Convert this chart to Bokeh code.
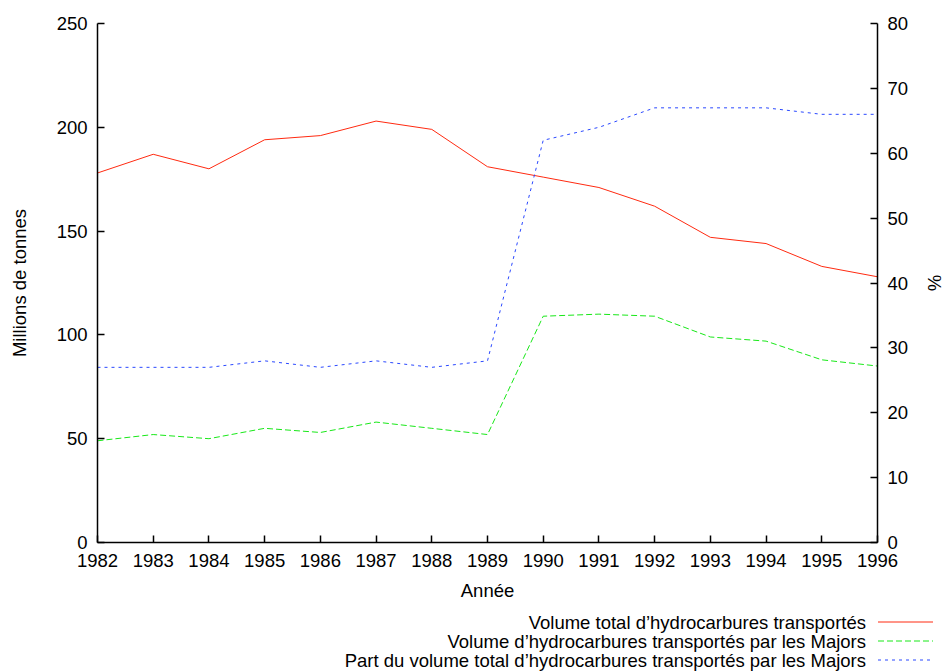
from bokeh.plotting import figure
from bokeh.models import Range1d, LinearAxis, FixedTicker, Div
from bokeh.layouts import column
from bokeh.embed import file_html
from bokeh.resources import INLINE

# ---- data ----
years = [1982, 1983, 1984, 1985, 1986, 1987, 1988, 1989,
         1990, 1991, 1992, 1993, 1994, 1995, 1996]
total_volume = [178, 187, 180, 194, 196, 203, 199, 181,
                176, 171, 162, 147, 144, 133, 128]
majors_volume = [49, 52, 50, 55, 53, 58, 55, 52,
                 109, 110, 109, 99, 97, 88, 85]
majors_share = [27, 27, 27, 28, 27, 28, 27, 28,
                62, 64, 67, 67, 67, 66, 66]
left_ticks = [0, 50, 100, 150, 200, 250]
right_ticks = [0, 10, 20, 30, 40, 50, 60, 70, 80]
series_labels = [
    "Volume total d\u2019hydrocarbures transport\u00e9s",
    "Volume d\u2019hydrocarbures transport\u00e9s par les Majors",
    "Part du volume total d\u2019hydrocarbures transport\u00e9s par les Majors",
]
series_colors = ["#ff2a10", "#18e818", "#2a48ff"]
series_dashes = ["solid", "6 3", "3 4"]

FONT = "Liberation Sans"
FS = "18.5px"
W = 949

p = figure(width=W, height=605, output_backend="svg", toolbar_location=None,
           x_range=Range1d(1982, 1996), y_range=Range1d(0, 250),
           min_border_left=97, min_border_right=72,
           min_border_top=23, min_border_bottom=63,
           x_axis_label="Ann\u00e9e", y_axis_label="Millions de tonnes")
p.extra_y_ranges = {"pct": Range1d(0, 80)}
p.outline_line_color = None
p.grid.visible = False

p.line(years, total_volume, line_color=series_colors[0], line_width=1,
       line_dash=series_dashes[0])
p.line(years, majors_volume, line_color=series_colors[1], line_width=1,
       line_dash=series_dashes[1])
p.line(years, majors_share, line_color=series_colors[2], line_width=1,
       line_dash=series_dashes[2], y_range_name="pct")

right_axis = LinearAxis(y_range_name="pct", axis_label="%")
p.add_layout(right_axis, "right")

p.xaxis.ticker = FixedTicker(ticks=years)
p.yaxis[0].ticker = FixedTicker(ticks=left_ticks)
right_axis.ticker = FixedTicker(ticks=right_ticks)

for ax in p.axis:
    ax.axis_line_color = "black"
    ax.axis_line_width = 1.5
    ax.major_tick_line_color = "black"
    ax.major_tick_line_width = 1.5
    ax.major_tick_in = 7
    ax.major_tick_out = 0
    ax.minor_tick_line_color = None
    ax.major_label_text_font = FONT
    ax.major_label_text_font_size = FS
    ax.major_label_text_color = "black"
    ax.axis_label_text_font = FONT
    ax.axis_label_text_font_size = FS
    ax.axis_label_text_font_style = "normal"
    ax.axis_label_text_color = "black"

p.xaxis.major_label_standoff = 11
p.xaxis.axis_label_standoff = 10
p.yaxis[0].major_label_standoff = 10
p.yaxis[0].axis_label_standoff = 24
right_axis.major_label_standoff = 10
right_axis.axis_label_standoff = 13

# ---- legend (gnuplot style: text right-aligned, line sample on its right) ----
row_centers = [17, 36, 55]
parts = ['<div style="position:relative;width:%dpx;height:63px;margin:0;padding:0;'
         'font-family:\'%s\';font-size:%s;color:black;">' % (W, FONT, FS)]
for label, color, dash, cy in zip(series_labels, series_colors, series_dashes, row_centers):
    parts.append('<div style="position:absolute;left:0;top:%spx;width:866px;height:19px;'
                 'line-height:19px;text-align:right;white-space:nowrap;">%s</div>'
                 % (cy - 9.5, label))
    da = "" if dash == "solid" else ' stroke-dasharray="%s"' % dash
    parts.append('<svg style="position:absolute;left:878px;top:%spx;" width="58" height="4">'
                 '<line x1="0" y1="2" x2="55" y2="2" stroke="%s" stroke-width="1"%s/></svg>'
                 % (cy - 2, color, da))
parts.append('</div>')
legend_div = Div(text="".join(parts), width=W, height=63,
                 styles={"margin": "0", "padding": "0"})

layout = column(p, legend_div, spacing=0)
open("out.html", "w").write(file_html(layout, INLINE))
